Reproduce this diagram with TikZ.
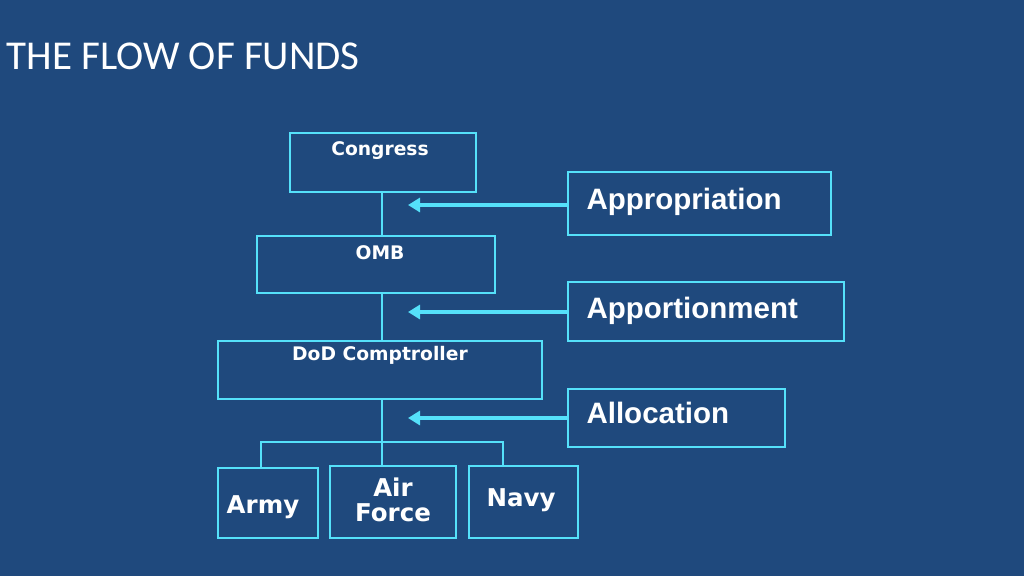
\documentclass[tikz,border=0pt]{standalone}
\usepackage{fontspec}
\setmainfont{Liberation Sans}
\newfontfamily\titlefont{Carlito}
\newfontfamily\vfont{DejaVu Sans}
\usetikzlibrary{arrows.meta}
\definecolor{bg}{RGB}{31,73,125}
\definecolor{cy}{RGB}{85,225,250}
\begin{document}
\begin{tikzpicture}[x=1pt,y=-1pt,
  bx/.style={draw=cy,line width=2.2pt},
  lbl/.style={text=white,font=\vfont\bfseries\fontsize{18.7}{20}\selectfont},
  sm/.style={lbl,font=\vfont\bfseries\fontsize{24.5}{25}\selectfont},
  big/.style={text=white,font=\bfseries\fontsize{29.5}{32}\selectfont,anchor=west},
  ln/.style={draw=cy,line width=2.2pt},
  arr/.style={draw=cy,line width=4.5pt,-{Triangle[length=12pt,width=14pt]}}]
\fill[bg] (0,0) rectangle (1024,576);
\useasboundingbox (0,0) rectangle (1024,576);
\node[anchor=west,text=white,font=\titlefont\fontsize{41}{44}\selectfont] (t) at (3,56) {THE FLOW OF FUNDS};
\draw[bx] (290,133) rectangle (476,192);
\node[lbl] (cg) at (380,151) {Congress};
\draw[bx] (257,236) rectangle (495,293);
\node[lbl] (omb) at (380,253) {OMB};
\draw[bx] (218,341) rectangle (542,399);
\node[lbl] (dod) at (380,355) {DoD Comptroller};
\draw[bx] (218,468) rectangle (318,538);
\node[sm] (army) at (263,507) {Army};
\draw[bx] (330,466) rectangle (456,538);
\node[sm,align=center] (af) at (393,500) {Air\\Force};
\draw[bx] (469,466) rectangle (578,538);
\node[sm] (navy) at (521,500) {Navy};
\draw[bx] (568,172) rectangle (831,235);
\node[big] (ap) at (583,202) {Appropriation};
\draw[bx] (568,282) rectangle (844,341);
\node[big] (apt) at (583,311) {Apportionment};
\draw[bx] (568,389) rectangle (785,447);
\node[big] (al) at (583,413) {Allocation};
\coordinate (a1) at (568,205); \coordinate (b1) at (408,205);
\coordinate (a2) at (568,312); \coordinate (b2) at (408,312);
\coordinate (a3) at (568,418); \coordinate (b3) at (408,418);
\draw[arr] (a1) -- (b1);
\draw[arr] (a2) -- (b2);
\draw[arr] (a3) -- (b3);
\draw[ln] (382,192) -- (382,236);
\draw[ln] (382,293) -- (382,341);
\draw[ln] (382,399) -- (382,466);
\draw[ln] (261,468) -- (261,442) -- (503,442) -- (503,466);
\end{tikzpicture}
\end{document}
